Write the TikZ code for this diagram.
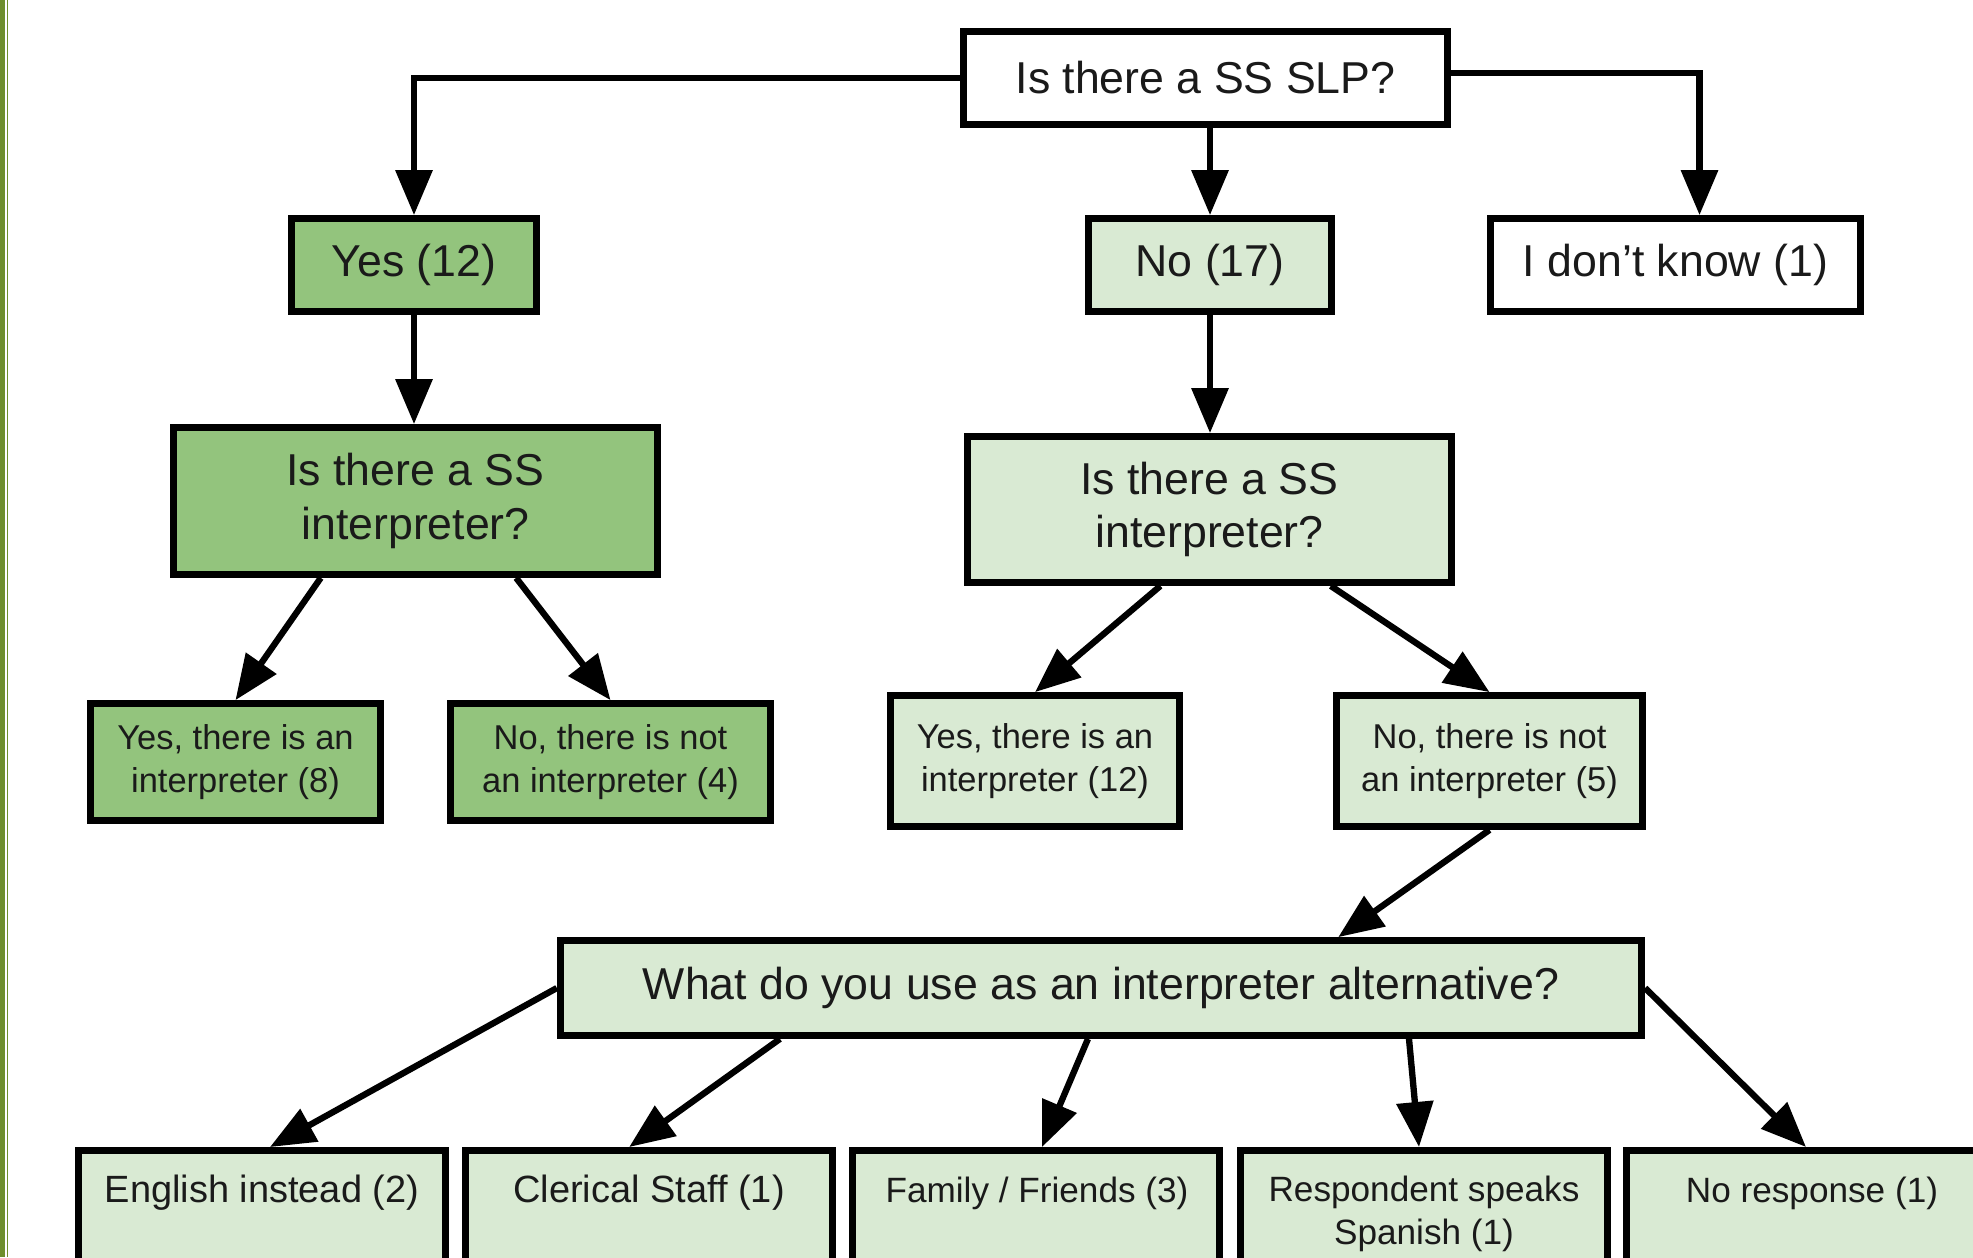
\documentclass[tikz,border=0pt]{standalone}
\usepackage{fontspec}
\setmainfont{Liberation Sans}
\usetikzlibrary{arrows.meta,calc}
\definecolor{darkgr}{HTML}{93C47D}
\definecolor{lightgr}{HTML}{D9EAD3}
\definecolor{stripe}{HTML}{6E8F2C}
\definecolor{txt}{HTML}{1A1A1A}
\tikzset{
  box/.style={draw=black, line width=1.9pt, rectangle, inner sep=0pt, align=center, text=txt,
    font=\fontsize{12.7}{15.2}\selectfont},
  smallbox/.style={box, font=\fontsize{9.8}{12.4}\selectfont},
  conn/.style={line width=1.8pt, -{Triangle[length=0.45cm,width=0.36cm]}},
  btext/.style={font=\fontsize{10.8}{13.4}\selectfont, align=center, inner sep=0pt, text=txt},
  btextb/.style={font=\fontsize{10}{12.2}\selectfont, align=center, inner sep=0pt, text=txt},
  bbox/.style={draw=black, line width=1.9pt, fill=lightgr, rectangle, inner sep=0pt,
    minimum width=3.67cm, minimum height=2.0cm, anchor=north},
}
\begin{document}
\begin{tikzpicture}[x=0.01cm,y=-0.01cm]
\useasboundingbox (0,0) rectangle (1973,1257);
\begin{scope}
\clip (0,0) rectangle (1973,1257);
\fill[white] (0,0) rectangle (1973,1257);
\fill[stripe] (0,0) rectangle (5,1257);
\fill[stripe] (6.7,0) rectangle (8,1257);

\node[box, fill=white, minimum width=4.84cm, minimum height=0.93cm] (top) at (1205.5,78) {Is there a SS SLP?};
\node[box, fill=darkgr, minimum width=2.45cm, minimum height=0.93cm] (yes) at (414,265) {Yes (12)};
\node[box, fill=lightgr, minimum width=2.43cm, minimum height=0.93cm] (no) at (1210,265) {No (17)};
\node[box, fill=white, minimum width=3.70cm, minimum height=0.93cm] (idk) at (1675.5,265) {I don’t know (1)};
\node[box, fill=darkgr, minimum width=4.84cm, minimum height=1.47cm] (linterp) at (415.5,501) {Is there a SS\\interpreter?};
\node[box, fill=lightgr, minimum width=4.84cm, minimum height=1.46cm] (rinterp) at (1209.5,509.5) {Is there a SS\\interpreter?};
\node[smallbox, fill=darkgr, minimum width=2.90cm, minimum height=1.17cm] (ly) at (235.5,762) {Yes, there is an\\interpreter (8)};
\node[smallbox, fill=darkgr, minimum width=3.20cm, minimum height=1.17cm] (ln) at (610.5,762) {No, there is not\\an interpreter (4)};
\node[smallbox, fill=lightgr, minimum width=2.89cm, minimum height=1.31cm] (ry) at (1035,761) {Yes, there is an\\interpreter (12)};
\node[smallbox, fill=lightgr, minimum width=3.06cm, minimum height=1.31cm] (rn) at (1489.5,761) {No, there is not\\an interpreter (5)};
\node[box, fill=lightgr, minimum width=10.81cm, minimum height=0.95cm] (alt) at (1101,988) {What do you use as an interpreter alternative?};

\node[bbox] (b1) at (262,1147) {};
\node[bbox] (b2) at (649,1147) {};
\node[bbox] (b3) at (1036,1147) {};
\node[bbox] (b4) at (1424,1147) {};
\node[bbox] (b5) at (1810,1147) {};
\node[btext] (t1) at (262,1193) {English instead (2)};
\node[btext] (t2) at (649,1193) {Clerical Staff (1)};
\node[btextb] (t3) at (1037,1193) {Family / Friends (3)};
\node[btextb] (t4) at (1424,1214) {Respondent speaks\\Spanish (1)};
\node[btextb] (t5) at (1812,1193) {No response (1)};

\draw[conn] (top.west) -| (yes.north);
\draw[conn] (top.south -| no.north) -- (no.north);
\draw[conn] ($(top.east)+(0,-5)$) -| ($(idk.north)+(24,0)$);
\draw[conn] (yes.south) -- (yes.south |- linterp.north);
\draw[conn] (no.south) -- (no.south |- rinterp.north);
\draw[conn] ($(linterp.south west)!0.307!(linterp.south east)$) -- (ly.north);
\draw[conn] ($(linterp.south west)!0.705!(linterp.south east)$) -- (ln.north);
\draw[conn] ($(rinterp.south west)!0.40!(rinterp.south east)$) -- (ry.north);
\draw[conn] ($(rinterp.south west)!0.747!(rinterp.south east)$) -- (rn.north);
\draw[conn] (rn.south) -- ($(alt.north west)!0.718!(alt.north east)$);
\draw[conn] (alt.west) -- ($(b1.north)+(8,0)$);
\draw[conn] ($(alt.south west)!0.205!(alt.south east)$) -- ($(b2.north west)!0.447!(b2.north east)$);
\draw[conn] ($(alt.south west)!0.488!(alt.south east)$) -- ($(b3.north)+(6,0)$);
\draw[conn] ($(alt.south west)!0.783!(alt.south east)$) -- ($(b4.north)+(-5,0)$);
\draw[conn] (alt.east) -- ($(b5.north)+(-4,0)$);
\end{scope}
\end{tikzpicture}
\end{document}
